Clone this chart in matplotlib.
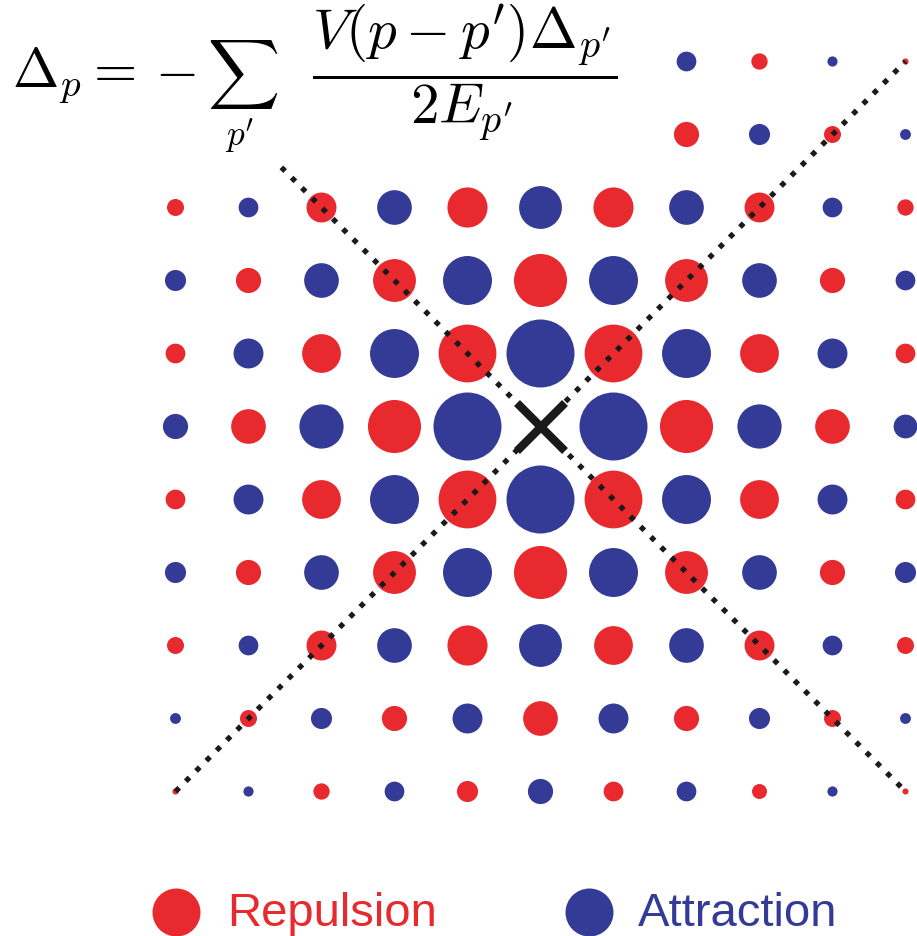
import matplotlib
matplotlib.use('Agg')
import matplotlib.pyplot as plt
import numpy as np

plt.rcParams['mathtext.fontset'] = 'cm'

# relative interaction strength V(p - p') on the 11 x 11 momentum grid,
# rows from top to bottom, columns from left to right; sign > 0 means repulsion,
# sign < 0 attraction, None means no dot (centre point p and the region under the formula)
offsets = [-5, -4, -3, -2, -1, 0, 1, 2, 3, 4, 5]
interaction = [
    [None, None, None, None, None, None, None, -0.29, 0.24, -0.15, 0.09],
    [None, None, None, None, None, None, None, 0.37, -0.31, 0.25, -0.16],
    [0.25, -0.29, 0.44, -0.51, 0.59, -0.63, 0.59, -0.51, 0.44, -0.29, 0.24],
    [-0.31, 0.37, -0.51, 0.63, -0.72, 0.78, -0.72, 0.63, -0.51, 0.37, -0.29],
    [0.29, -0.44, 0.57, -0.72, 0.85, -1.00, 0.85, -0.72, 0.57, -0.44, 0.29],
    [-0.37, 0.51, -0.65, 0.78, -1.00, None, -1.00, 0.78, -0.65, 0.51, -0.35],
    [0.29, -0.44, 0.57, -0.72, 0.85, -1.00, 0.85, -0.72, 0.57, -0.44, 0.29],
    [-0.31, 0.37, -0.51, 0.63, -0.72, 0.78, -0.72, 0.63, -0.51, 0.37, -0.31],
    [0.25, -0.29, 0.44, -0.51, 0.59, -0.63, 0.57, -0.51, 0.44, -0.29, 0.25],
    [-0.16, 0.25, -0.31, 0.37, -0.44, 0.51, -0.44, 0.37, -0.31, 0.25, -0.16],
    [0.09, -0.15, 0.24, -0.29, 0.31, -0.37, 0.29, -0.29, 0.22, -0.15, 0.09],
]
legend_labels = ['Repulsion', 'Attraction']

RED = '#E8292E'
BLUE = '#333B96'
INK = '#1a1a1a'

W, H = 917, 937
CELL = 73.0                    # pixel pitch of the grid
CX, CY = 540.5, 427.5          # pixel position of the centre point
DOT_MAX_PX = 68.0              # diameter of a dot with |V| = 1

fig = plt.figure(figsize=(W / 100, H / 100), dpi=100)
ax = fig.add_axes([0, 0, 1, 1])
ax.set_xlim(-CX / CELL, (W - CX) / CELL)
ax.set_ylim(-(H - CY) / CELL, CY / CELL)
ax.axis('off')

xs, ys, sizes, colors = [], [], [], []
for r, row in enumerate(interaction):
    for c, v in enumerate(row):
        if v is None:
            continue
        xs.append(offsets[c])
        ys.append(-offsets[r])
        d_pt = abs(v) * DOT_MAX_PX * 0.72
        sizes.append(d_pt ** 2)
        colors.append(RED if v > 0 else BLUE)
ax.scatter(xs, ys, s=sizes, c=colors, linewidths=0, zorder=2)

# dotted diagonals through the centre
dots = (0, (1, 1.75))
ax.plot([offsets[0], offsets[-1]], [offsets[0], offsets[-1]],
        color=INK, lw=3.8, linestyle=dots, zorder=3)
ax.plot([-3.55, offsets[-1]], [3.55, offsets[0]],
        color=INK, lw=3.8, linestyle=dots, zorder=3)

# the point p itself
ax.plot([0], [0], marker='x', markersize=34, mew=6, color=INK, zorder=4)

# gap equation, set in pieces on a common baseline
base = 1 - 87 / H
fig.text(12 / W, base, r'$\Delta_p =$', fontsize=40, va='baseline', ha='left')
fig.text(155 / W, base, r'$-$', fontsize=40, va='baseline', ha='left')
fig.text(207 / W, 1 - 91 / H, r'$\sum_{p^\prime}$', fontsize=36, va='baseline', ha='left')
fig.text(312 / W, 1 - 88 / H,
         r'$\dfrac{V(p-p^\prime)\Delta_{p^\prime}}{2E_{p^\prime}}$',
         fontsize=41, va='baseline', ha='left')

# legend
for x_dot, x_txt, col, lab in [(176, 227, RED, legend_labels[0]),
                               (589, 638, BLUE, legend_labels[1])]:
    ax.scatter([(x_dot - CX) / CELL], [-(913 - CY) / CELL],
               s=(48 * 0.72) ** 2, color=col, linewidths=0, clip_on=False)
    fig.text(x_txt / W, 1 - 926 / H, lab, fontsize=34, color=col,
             family='Liberation Sans', va='baseline', ha='left')

fig.savefig('out.png', dpi=100, facecolor='white')
